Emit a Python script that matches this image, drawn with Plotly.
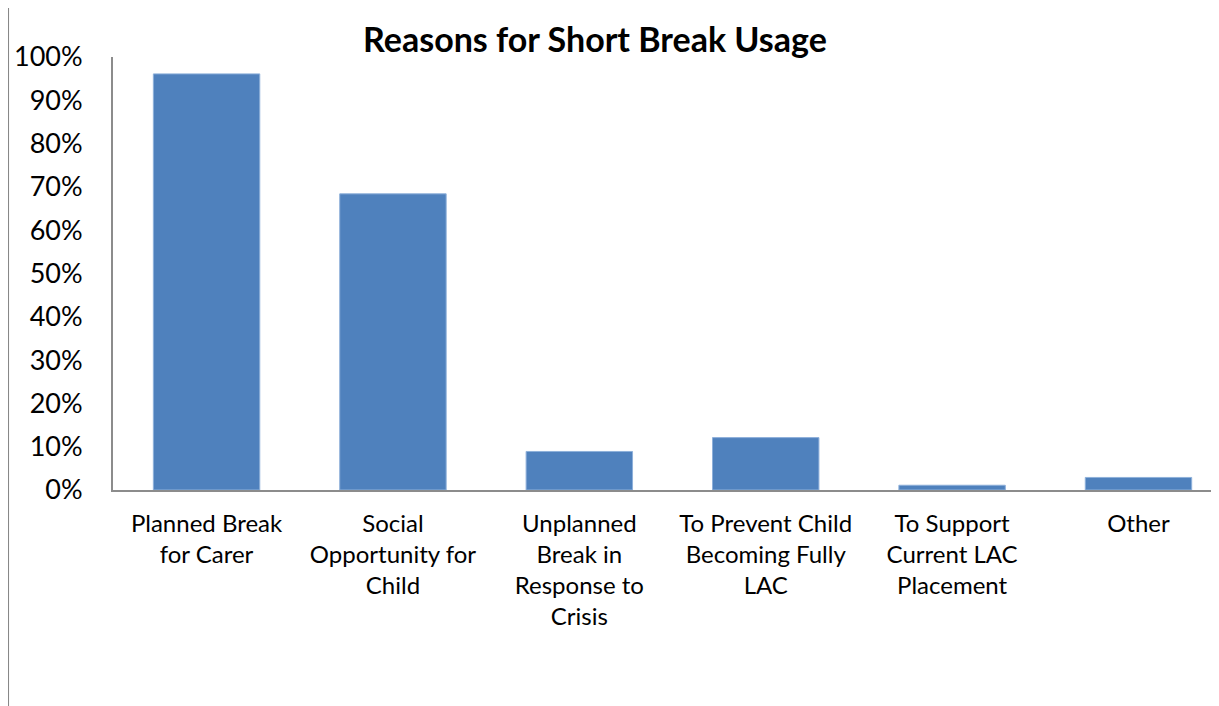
import plotly.graph_objects as go

categories = [
    "Planned Break<br>for Carer",
    "Social<br>Opportunity for<br>Child",
    "Unplanned<br>Break in<br>Response to<br>Crisis",
    "To Prevent Child<br>Becoming Fully<br>LAC",
    "To Support<br>Current LAC<br>Placement",
    "Other",
]
values = [0.961, 0.684, 0.089, 0.121, 0.011, 0.029]
y_ticks = [0, 0.1, 0.2, 0.3, 0.4, 0.5, 0.6, 0.7, 0.8, 0.9, 1.0]

FONT = "Lato"

fig = go.Figure(
    go.Bar(
        x=categories,
        y=values,
        marker=dict(color="#4F81BD", line=dict(color="#8EB0DA", width=1)),
        hoverinfo="skip",
    )
)

fig.update_layout(
    width=1211,
    height=698,
    margin=dict(l=105, r=0, t=49, b=216),
    plot_bgcolor="white",
    paper_bgcolor="white",
    bargap=0.429,
    showlegend=False,
    title=dict(
        text="<b>Reasons for Short Break Usage</b>",
        xref="container",
        yref="container",
        x=0.4847,
        xanchor="center",
        y=0.954,
        yanchor="middle",
        font=dict(family=FONT, size=34, color="black"),
    ),
    font=dict(family=FONT, color="black"),
    shapes=[
        dict(
            type="line",
            xref="paper",
            yref="paper",
            x0=-0.0949,
            x1=-0.0949,
            y0=-0.5,
            y1=1.2,
            line=dict(color="#888888", width=2),
        )
    ],
)

fig.update_yaxes(
    range=[0, 1],
    tickvals=y_ticks,
    tickformat=".0%",
    showgrid=False,
    zeroline=False,
    showline=True,
    linecolor="#8C8C8C",
    linewidth=2,
    ticks="",
    ticklabelstandoff=23,
    tickfont=dict(family=FONT, size=27, color="black"),
)

fig.update_xaxes(
    range=[-0.502, 5.432],
    showgrid=False,
    showline=True,
    linecolor="#8C8C8C",
    linewidth=2,
    ticks="",
    tickangle=0,
    ticklabelstandoff=11,
    tickfont=dict(family=FONT, size=24, color="black"),
)

fig.write_html("out.html")
